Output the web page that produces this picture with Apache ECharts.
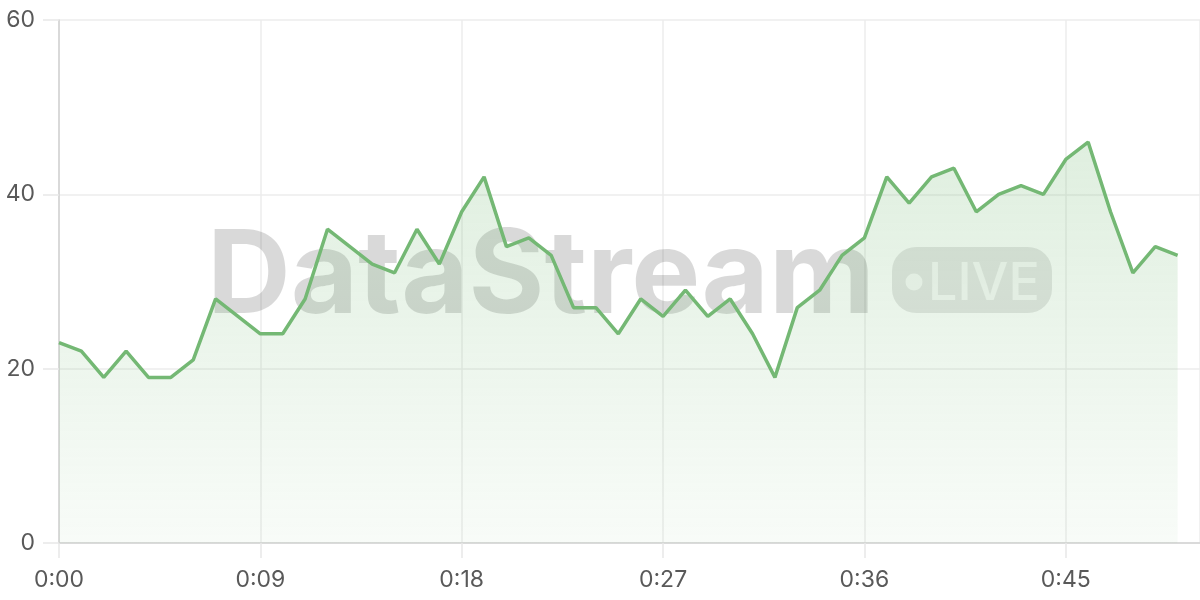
<!DOCTYPE html>
<html>
<head>
<meta charset="utf-8">
<script src="https://cdn.jsdelivr.net/npm/echarts@6/dist/echarts.min.js"></script>
<style>html,body{margin:0;padding:0;background:#fff}#c{width:1200px;height:600px}</style>
</head>
<body>
<div id="c"></div>
<script>
const seconds = [0,1,2,3,4,5,6,7,8,9,10,11,12,13,14,15,16,17,18,19,20,21,22,23,24,25,26,27,28,29,30,31,32,33,34,35,36,37,38,39,40,41,42,43,44,45,46,47,48,49,50];
const values = [23,22,19,22,19,19,21,28,26,24,24,28,36,34,32,31,36,32,38,42,34,35,33,27,27,24,28,26,29,26,28,24,19,27,29,33,35,42,39,42,43,38,40,41,40,44,46,38,31,34,33];
const yTicks = [0,20,40,60];

const chart = echarts.init(document.getElementById('c'));
const fmt = v => Math.floor(v/60) + ':' + String(v%60).padStart(2,'0');
chart.setOption({
  animation: false,
  grid: {left: 59, right: 0, top: 20, bottom: 57, containLabel: false},
  xAxis: {
    type: 'value', min: 0, max: 51, interval: 9,
    axisLine: {show: true, lineStyle: {color: '#d2d2d2', width: 1.5}},
    axisTick: {show: true, length: 15, lineStyle: {color: '#e8e8e8', width: 1.5}},
    splitLine: {show: true, lineStyle: {color: '#ececec', width: 1.5}},
    axisLabel: {formatter: v => fmt(v), color: '#595959', fontSize: 23, fontFamily: 'Inter', margin: 26, showMaxLabel: false}
  },
  yAxis: {
    type: 'value', min: yTicks[0], max: yTicks[yTicks.length-1], interval: 20,
    axisLine: {show: true, lineStyle: {color: '#d2d2d2', width: 1.5}},
    axisTick: {show: true, length: 16, lineStyle: {color: '#e8e8e8', width: 1.5}},
    splitLine: {show: true, lineStyle: {color: '#ececec', width: 1.5}},
    axisLabel: {color: '#595959', fontSize: 23, fontFamily: 'Inter', margin: 24}
  },
  graphic: [
    {type: 'text', z: 1, silent: true, style: {text: 'DataStream', x: 207, y: 336, font: 'bold 116px "Inter"', fill: 'rgba(0,0,0,0.15)', textAlign: 'left', textVerticalAlign: 'bottom'}},
    {type: 'rect', z: 1, silent: true, shape: {x: 892, y: 247, width: 160, height: 66, r: 24}, style: {fill: 'rgba(0,0,0,0.1)'}},
    {type: 'circle', z: 1, silent: true, shape: {cx: 914, cy: 282, r: 8.5}, style: {fill: 'rgba(255,255,255,0.75)'}},
    {type: 'text', z: 1, silent: true, style: {text: 'LIVE', x: 928, y: 284, font: '500 52px "Inter"', fill: 'rgba(255,255,255,0.7)', textAlign: 'left', textVerticalAlign: 'middle'}}
  ],
  series: [{
    type: 'line', z: 3,
    data: seconds.map((s, i) => [s, values[i]]),
    showSymbol: false, symbol: 'none',
    lineStyle: {color: '#74b874', width: 3.5},
    areaStyle: {color: new echarts.graphic.LinearGradient(0, 0, 0, 1, [
      {offset: 0, color: 'rgba(117,185,117,0.33)'},
      {offset: 1, color: 'rgba(117,185,117,0.07)'}
    ])}
  }]
});
</script>
</body>
</html>
